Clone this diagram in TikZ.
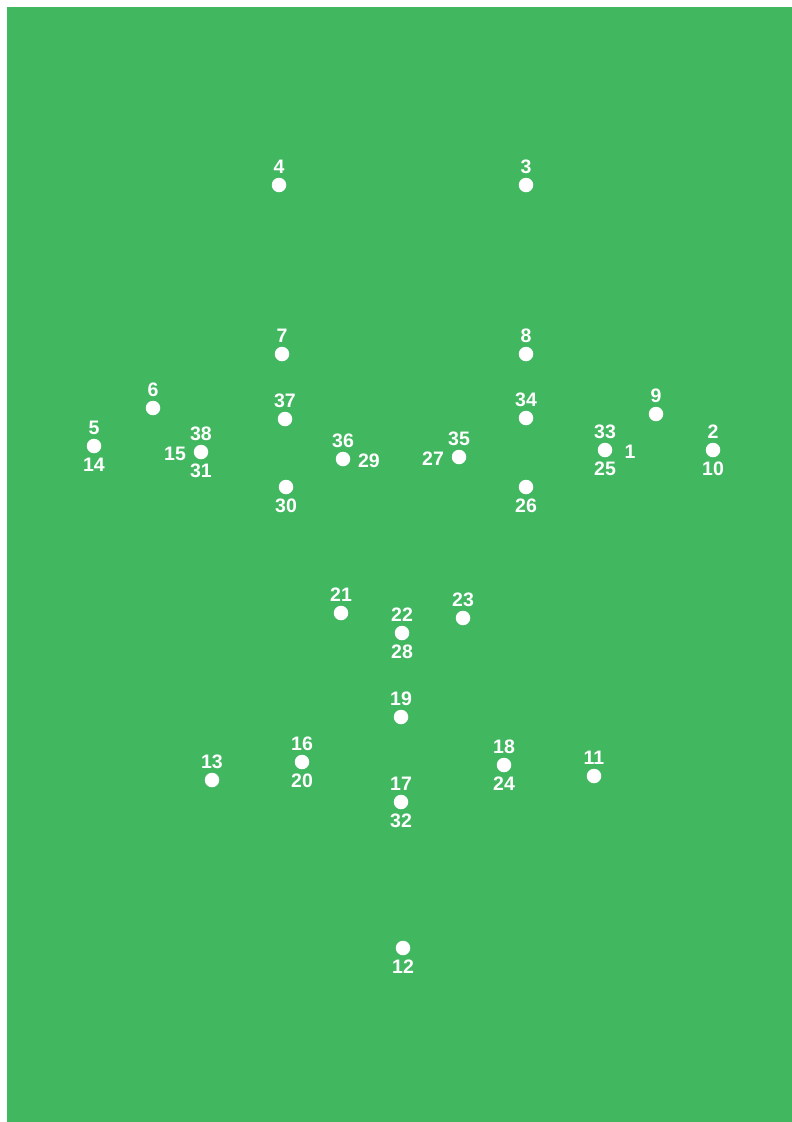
\documentclass[tikz,border=0pt]{standalone}
\usepackage{fontspec}
\setmainfont{Liberation Sans}
\usepackage{xcolor}
\definecolor{sheet}{HTML}{41B760}
\usetikzlibrary{positioning}

\begin{document}
\begin{tikzpicture}[
    x=1pt, y=-1pt,
    font=\bfseries\fontsize{19.5}{19.5}\selectfont,
    dot/.style={circle, fill=white, inner sep=0pt, minimum size=14.5pt},
    every label/.style={text=white, inner sep=0pt},
    label distance=4pt,
    side/.style={label distance=7.5pt, yshift=-2pt},
]
    % Page and sheet
    \useasboundingbox (0,0) rectangle (792,1122);
    \fill[sheet] (7,7) rectangle (792,1122);

    % Top points
    \node[dot, label={above:4}] (p4) at (279,185) {};
    \node[dot, label={above:3}] (p3) at (526,185) {};
    \node[dot, label={above:7}] (p7) at (282,354) {};
    \node[dot, label={above:8}] (p8) at (526,354) {};

    % Left wing
    \node[dot, label={above:6}] (p6) at (153,408) {};
    \node[dot, label={above:5}, label={below:14}] (p5) at (94,446) {};
    \node[dot, label={above:38}, label={below:31},
          label={[side]left:15}] (p15) at (201,452) {};
    \node[dot, label={above:37}] (p37) at (285,419) {};
    \node[dot, label={below:30}] (p30) at (286,487) {};
    \node[dot, label={above:36}, label={[side]right:29}] (p29) at (343,459) {};

    % Right wing
    \node[dot, label={above:35}, label={[side]left:27}] (p27) at (459,457) {};
    \node[dot, label={above:34}] (p34) at (526,418) {};
    \node[dot, label={below:26}] (p26) at (526,487) {};
    \node[dot, label={above:33}, label={below:25},
          label={[side, label distance=12pt]right:1}] (p1) at (605,450) {};
    \node[dot, label={above:9}] (p9) at (656,414) {};
    \node[dot, label={above:2}, label={below:10}] (p2) at (713,450) {};

    % Middle
    \node[dot, label={above:21}] (p21) at (341,613) {};
    \node[dot, label={above:22}, label={below:28}] (p22) at (402,633) {};
    \node[dot, label={above:23}] (p23) at (463,618) {};
    \node[dot, label={above:19}] (p19) at (401,717) {};

    % Lower points
    \node[dot, label={above:13}] (p13) at (212,780) {};
    \node[dot, label={above:16}, label={below:20}] (p16) at (302,762) {};
    \node[dot, label={above:17}, label={below:32}] (p17) at (401,802) {};
    \node[dot, label={above:18}, label={below:24}] (p18) at (504,765) {};
    \node[dot, label={above:11}] (p11) at (594,776) {};
    \node[dot, label={below:12}] (p12) at (403,948) {};

\end{tikzpicture}
\end{document}
